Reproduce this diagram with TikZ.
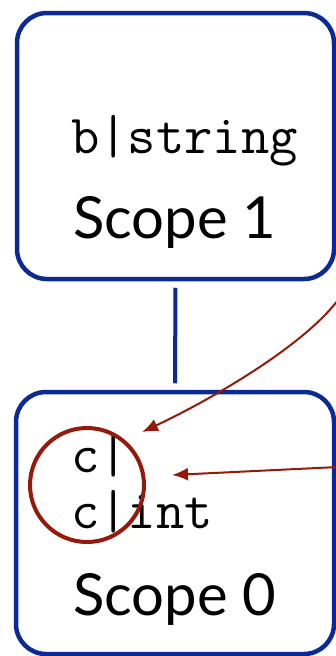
\documentclass[tikz,border=0pt]{standalone}
\usepackage{fontspec}
\setmainfont{Lato}
\usepackage{tikz}
\usetikzlibrary{positioning, arrows.meta, calc}
\definecolor{ScopeBlue}{HTML}{0B2A94}
\definecolor{RefRed}{HTML}{951A0B}

\tikzset{
  scopebox/.style={draw=ScopeBlue, line width=4.5pt, rounded corners=30pt, inner sep=0pt},
  scopelabel/.style={anchor=base west, inner sep=0pt, font=\fontsize{58}{60}\selectfont},
  varlabel/.style={anchor=base west, inner sep=0pt, font=\ttfamily\fontsize{55}{57}\selectfont},
  refarrow/.style={draw=RefRed, line width=2pt, -{Latex[length=16pt,width=13pt]}}
}

\begin{document}
\begin{tikzpicture}[x=1pt,y=-1pt]
  \useasboundingbox (0,0) rectangle (336,656);
  % scope boxes
  \node[scopebox, minimum width=317pt, minimum height=266pt] (scope1) at (175.5,146) {};
  \node[scopebox, minimum width=318pt, minimum height=262pt] (scope0) at (175,523) {};
  \draw[ScopeBlue, line width=4pt, shorten <=6.5pt, shorten >=6.5pt] (scope1.south) -- (scope0.north);
  % contents
  \node[varlabel] (bstring) at (71,153) {b|string};
  \node[scopelabel] (name1) at (73,238) {Scope 1};
  \node[varlabel] (cempty) at (71,472) {c|};
  \node[varlabel] (cint) at (71,528) {c|int};
  \node[scopelabel] (name0) at (73,615) {Scope 0};
  % lookup
  \node[draw=RefRed, line width=4pt, circle, minimum size=114pt, inner sep=0pt] (focus) at (87,485) {};
  \coordinate (from1) at (338,300);
  \coordinate (from2) at (338,467);
  \coordinate (to1) at (142,432);
  \coordinate (to2) at (172,475);
  \draw[refarrow] (from1) .. controls (300,350) and (200,405) .. (to1);
  \draw[refarrow] (from2) -- (to2);
\end{tikzpicture}
\end{document}
